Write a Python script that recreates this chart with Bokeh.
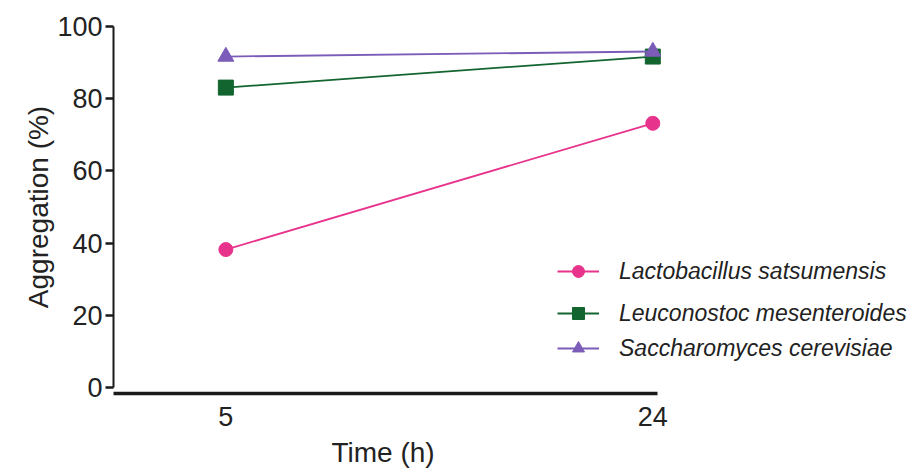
from bokeh.plotting import figure
from bokeh.models import Legend, LegendItem, FixedTicker, ColumnDataSource, Title
from bokeh.embed import file_html
from bokeh.resources import INLINE

# ---- data ----
times = [5, 24]
time_labels = {5: "5", 24: "24"}
lacto = [38.2, 73.2]
leuco = [83.1, 91.7]
sacch = [91.7, 93.1]
series_names = ["Lactobacillus satsumensis", "Leuconostoc mesenteroides", "Saccharomyces cerevisiae"]
y_ticks = [0, 20, 40, 60, 80, 100]
x_title = "Time (h)"
y_title = "Aggregation (%)"

PINK = "#E8338C"
GREEN = "#12652F"
PURPLE = "#7B5CB8"
FONT = "Liberation Sans"

p = figure(
    output_backend="svg", toolbar_location=None,
    frame_width=802, frame_height=373,
    min_border_left=113, min_border_right=0, min_border_top=20, min_border_bottom=78,
    x_range=(0, 35.69), y_range=(-1.7, 101.7),
)
p.outline_line_color = None
p.grid.grid_line_color = None
p.background_fill_color = "white"

src = ColumnDataSource(dict(t=times, lacto=lacto, leuco=leuco, sacch=sacch))

r1l = p.line("t", "lacto", source=src, line_color=PINK, line_width=1.8)
r1m = p.scatter("t", "lacto", source=src, marker="circle", size=14, fill_color=PINK, line_color=PINK)
r2l = p.line("t", "leuco", source=src, line_color=GREEN, line_width=1.8)
r2m = p.scatter("t", "leuco", source=src, marker="square", size=15, fill_color=GREEN, line_color=GREEN)
r3l = p.line("t", "sacch", source=src, line_color=PURPLE, line_width=1.8)
r3m = p.scatter("t", "sacch", source=src, marker="triangle", size=16, fill_color=PURPLE, line_color=PURPLE)

# axes
xa = p.xaxis[0]
xa.ticker = FixedTicker(ticks=times)
xa.major_label_overrides = time_labels
xa.bounds = (0, 24.2)
xa.axis_line_width = 3.5
xa.axis_line_color = "#1a1a1a"
xa.major_tick_line_color = None
xa.minor_tick_line_color = None
xa.major_label_text_font = FONT
xa.major_label_text_font_size = "27px"
xa.major_label_text_color = "#222222"
xa.major_label_standoff = 7

ya = p.yaxis[0]
ya.ticker = FixedTicker(ticks=y_ticks)
ya.bounds = (0, 100)
ya.axis_line_width = 2
ya.axis_line_color = "#1a1a1a"
ya.major_tick_line_width = 2.5
ya.major_tick_line_color = "#1a1a1a"
ya.major_tick_in = 0
ya.major_tick_out = 8
ya.minor_tick_line_color = None
ya.major_label_text_font = FONT
ya.major_label_text_font_size = "27px"
ya.major_label_text_color = "#222222"
ya.major_label_standoff = 3
ya.axis_label = y_title
ya.axis_label_text_font = FONT
ya.axis_label_text_font_size = "28px"
ya.axis_label_text_font_style = "normal"
ya.axis_label_text_color = "#222222"
ya.axis_label_standoff = 0

# x axis title, centred under the drawn axis line
xt = Title(text=x_title, align="left", offset=218, standoff=12,
           text_font=FONT, text_font_size="28px", text_font_style="normal",
           text_color="#222222")
p.add_layout(xt, "below")

# legends (three single-item legends for uneven spacing)
legend_specs = [
    (series_names[0], [r1l, r1m], 107),
    (series_names[1], [r2l, r2m], 65),
    (series_names[2], [r3l, r3m], 30),
]
for name, rends, ypos in legend_specs:
    lg = Legend(items=[LegendItem(label=name, renderers=rends)],
                location=(444, ypos))
    lg.border_line_color = None
    lg.background_fill_alpha = 0
    lg.label_text_font = FONT
    lg.label_text_font_size = "23px"
    lg.label_text_font_style = "italic"
    lg.label_text_color = "#222222"
    lg.glyph_width = 42
    lg.glyph_height = 30
    lg.label_standoff = 20
    lg.padding = 0
    lg.margin = 0
    p.add_layout(lg)

open("out.html", "w").write(file_html(p, INLINE))
